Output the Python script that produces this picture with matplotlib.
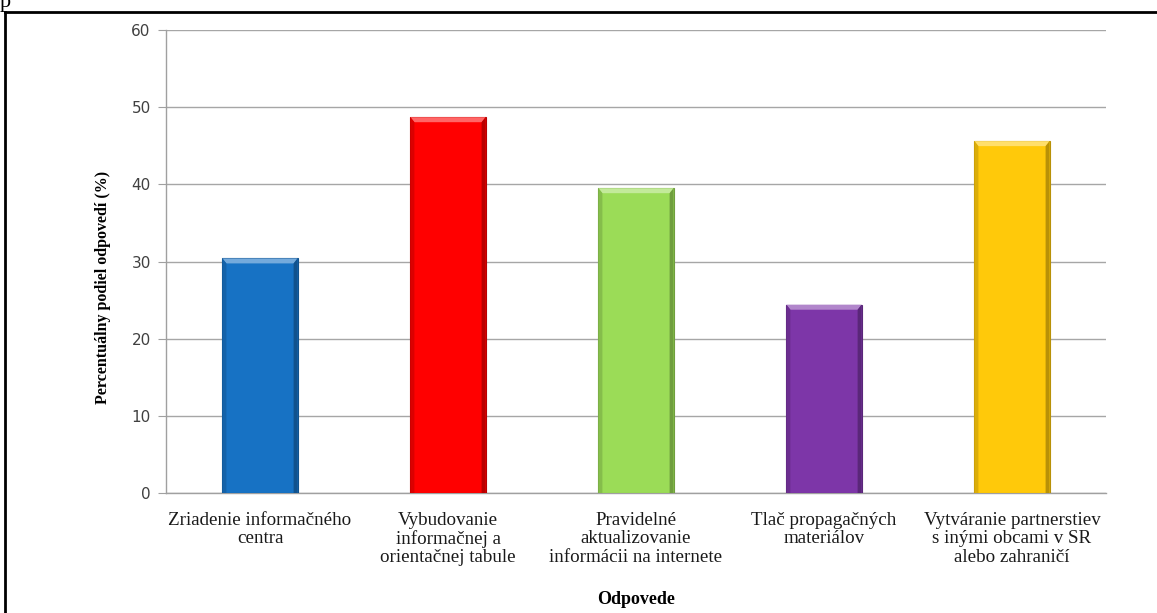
import numpy as np
import matplotlib
matplotlib.use("Agg")
import matplotlib.pyplot as plt
from matplotlib.patches import Polygon
from matplotlib.lines import Line2D
from matplotlib.colors import to_rgb

categories = ["Zriadenie informačného\ncentra",
              "Vybudovanie\ninformačnej a\norientačnej tabule",
              "Pravidelné\naktualizovanie\ninformácii na internete",
              "Tlač propagačných\nmateriálov",
              "Vytváranie partnerstiev\ns inými obcami v SR\nalebo zahraničí"]
values = [30.4, 48.7, 39.5, 24.4, 45.6]
colors = ["#1772C4", "#FF0000", "#9BDC57", "#7D36A8", "#FFC90A"]

W, H = 1157, 613
fig = plt.figure(figsize=(W / 100, H / 100), dpi=100)
ax = fig.add_axes([166 / W, 1 - 493 / H, 940 / W, 463 / H])

x = np.arange(len(categories))
bars = ax.bar(x, values, width=0.4, color=colors, zorder=3)

ax.set_xlim(-0.5, len(categories) - 0.5)
ax.set_ylim(0, 60)

# bevel look: lighter top strip, darker side strips
px_x = 5 / 940      # data units per pixel (x)
px_y = 60 / 463     # data units per pixel (y)
for b, c in zip(bars, colors):
    r, g, bl = to_rgb(c)
    dark = (r * 0.72, g * 0.72, bl * 0.72)
    mid_dark = (r * 0.86, g * 0.86, bl * 0.86)
    light = tuple(min(1, v + (1 - v) * 0.4) for v in (r, g, bl))
    b.set_edgecolor(dark)
    b.set_linewidth(0.8)
    x0, x1, top = b.get_x(), b.get_x() + b.get_width(), b.get_height()
    s = 4 * px_x
    t = 5 * px_y
    ax.add_patch(Polygon([(x0, top), (x1, top), (x1 - s, top - t), (x0 + s, top - t)],
                         closed=True, facecolor=light, edgecolor="none", zorder=4))
    ax.add_patch(Polygon([(x0, 0), (x0, top), (x0 + s, top - t), (x0 + s, 0)],
                         closed=True, facecolor=mid_dark, edgecolor="none", zorder=4))
    ax.add_patch(Polygon([(x1, 0), (x1, top), (x1 - s, top - t), (x1 - s, 0)],
                         closed=True, facecolor=dark, edgecolor="none", zorder=4))

ax.set_yticks(range(0, 61, 10))
ax.yaxis.grid(True, color="#a6a6a6", linewidth=1.0, zorder=0)
ax.set_axisbelow(True)

for s_ in ["top", "right"]:
    ax.spines[s_].set_visible(False)
for s_ in ["left", "bottom"]:
    ax.spines[s_].set_color("#a0a0a0")
    ax.spines[s_].set_linewidth(1.0)

ax.tick_params(axis="y", colors="#a0a0a0", length=6, labelcolor="#404040", labelsize=11, pad=5)
ax.tick_params(axis="x", length=0, pad=14)
for lab in ax.get_yticklabels():
    lab.set_fontfamily("DejaVu Sans")

ax.set_xticks(x)
ax.set_xticklabels(categories, fontfamily="Liberation Serif", fontsize=13.7, linespacing=1.08,
                   color="#1a1a1a")

ax.set_ylabel("Percentuálny podiel odpovedí (%)", fontfamily="Liberation Serif",
              fontweight="bold", fontsize=11.5)
ax.yaxis.set_label_coords(-0.058, 0.445)
ax.set_xlabel("Odpovede", fontfamily="Liberation Serif", fontweight="bold", fontsize=13)
ax.xaxis.set_label_coords(0.5, -0.212)

# frame lines (top and left only)
fig.add_artist(Line2D([5 / W, 1], [1 - 12 / H, 1 - 12 / H], transform=fig.transFigure,
                      color="black", linewidth=2))
fig.add_artist(Line2D([5 / W, 5 / W], [0, 1 - 12 / H], transform=fig.transFigure,
                      color="black", linewidth=2))
fig.text(0.0, 1 - 2 / H, "p", fontfamily="Liberation Serif", fontsize=16, va="center", ha="left")

fig.savefig("out.png", dpi=100)
